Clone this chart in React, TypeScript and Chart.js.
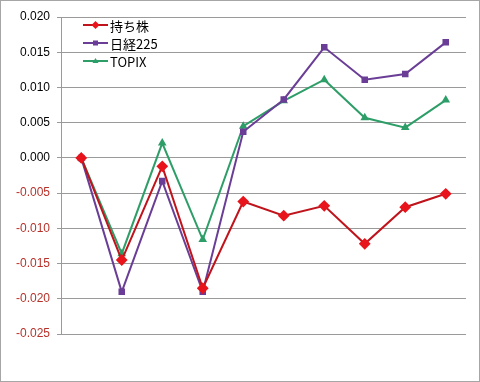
import React, { useEffect, useRef } from "react";
import { Chart, registerables } from "chart.js";

Chart.register(...registerables);

const categories = ["1", "2", "3", "4", "5", "6", "7", "8", "9", "10"];
const seriesNames = ["持ち株", "日経225", "TOPIX"];
const mochikabu = [0, -0.0145, -0.0012, -0.0185, -0.0062, -0.0082, -0.0068, -0.0122, -0.007, -0.0051];
const nikkei225 = [0, -0.019, -0.0033, -0.019, 0.0037, 0.0083, 0.0157, 0.0111, 0.0119, 0.0164];
const topix = [0, -0.0136, 0.0021, -0.0116, 0.0045, 0.0081, 0.0111, 0.0057, 0.0043, 0.0082];
const yMin = -0.025;
const yMax = 0.02;
const yStep = 0.005;

const FONT = "'Liberation Sans', Arial, sans-serif";
const JFONT = "'Noto Sans CJK JP', 'Liberation Sans', sans-serif";

const framePlugin = {
  id: "frame",
  beforeDraw(chart: any) {
    const { ctx, width, height } = chart;
    ctx.save();
    ctx.fillStyle = "#ffffff";
    ctx.fillRect(0, 0, width, height);
    ctx.strokeStyle = "#a6a6a6";
    ctx.lineWidth = 1;
    ctx.strokeRect(0.5, 0.5, width - 1, height - 1);
    ctx.restore();
  },
};

const legendPlugin = {
  id: "customLegend",
  afterDraw(chart: any) {
    const { ctx, chartArea } = chart;
    ctx.save();
    const x0 = chartArea.left + 22;
    let y = chartArea.top + 8;
    chart.data.datasets.forEach((ds: any) => {
      ctx.strokeStyle = ds.borderColor;
      ctx.lineWidth = 2;
      ctx.beginPath();
      ctx.moveTo(x0, y);
      ctx.lineTo(x0 + 25, y);
      ctx.stroke();
      const cx = x0 + 12.5;
      ctx.fillStyle = ds.pointBackgroundColor;
      ctx.beginPath();
      if (ds.pointStyle === "rectRot") {
        const r = 4;
        ctx.moveTo(cx, y - r);
        ctx.lineTo(cx + r, y);
        ctx.lineTo(cx, y + r);
        ctx.lineTo(cx - r, y);
      } else if (ds.pointStyle === "rect") {
        ctx.rect(cx - 2.5, y - 2.5, 5, 5);
      } else {
        ctx.moveTo(cx, y - 3);
        ctx.lineTo(cx + 3, y + 2);
        ctx.lineTo(cx - 3, y + 2);
      }
      ctx.closePath();
      ctx.fill();
      ctx.fillStyle = "#000000";
      ctx.font = "13px " + JFONT;
      ctx.textAlign = "left";
      ctx.textBaseline = "middle";
      ctx.fillText(ds.label, x0 + 27, y + 1);
      y += 18;
    });
    ctx.restore();
  },
};

export default function App() {
  const ref = useRef<HTMLCanvasElement>(null);
  useEffect(() => {
    if (!ref.current) return;
    const chart = new Chart(ref.current, {
      type: "line",
      data: {
        labels: categories,
        datasets: [
          {
            label: seriesNames[0],
            data: mochikabu,
            borderColor: "#c0141c",
            backgroundColor: "#e8141c",
            pointBackgroundColor: "#e8141c",
            pointBorderColor: "#e8141c",
            pointStyle: "rectRot",
            pointRadius: 4.5,
            borderWidth: 2,
            tension: 0,
          },
          {
            label: seriesNames[1],
            data: nikkei225,
            borderColor: "#6a3d96",
            backgroundColor: "#6a3d96",
            pointBackgroundColor: "#6a3d96",
            pointBorderColor: "#6a3d96",
            pointStyle: "rect",
            pointRadius: 3.2,
            borderWidth: 2,
            tension: 0,
          },
          {
            label: seriesNames[2],
            data: topix,
            borderColor: "#2e9e68",
            backgroundColor: "#2e9e68",
            pointBackgroundColor: "#2e9e68",
            pointBorderColor: "#2e9e68",
            pointStyle: "triangle",
            pointRadius: 3,
            borderWidth: 2,
            tension: 0,
          },
        ],
      },
      options: {
        responsive: false,
        animation: false,
        layout: { padding: { left: 0, top: 17, right: 14, bottom: 48 } },
        plugins: {
          legend: { display: false },
          tooltip: { enabled: false },
        },
        scales: {
          x: { display: false, offset: true },
          y: {
            min: yMin,
            max: yMax,
            afterFit: (scale: any) => {
              scale.width = 61;
            },
            grid: {
              color: "#9a9a9a",
              lineWidth: 1,
              drawTicks: true,
              tickLength: 4,
              tickColor: "#9a9a9a",
            },
            border: { display: true, color: "#9a9a9a", width: 1 },
            ticks: {
              stepSize: yStep,
              padding: 7,
              font: { size: 12, family: FONT },
              color: (c: any) => (c.tick && c.tick.value < -1e-9 ? "#b8312a" : "#000000"),
              callback: (v: any) => {
                const n = Number(v);
                const s = Math.abs(n) < 1e-9 ? "0.000" : n.toFixed(3);
                return s;
              },
            },
          },
        },
      },
      plugins: [framePlugin, legendPlugin],
    });
    return () => chart.destroy();
  }, []);
  return (
    <div style={{ position: "fixed", left: 0, top: 0, width: 480, height: 382 }}>
      <canvas ref={ref} width={480} height={382} style={{ display: "block" }} />
    </div>
  );
}
